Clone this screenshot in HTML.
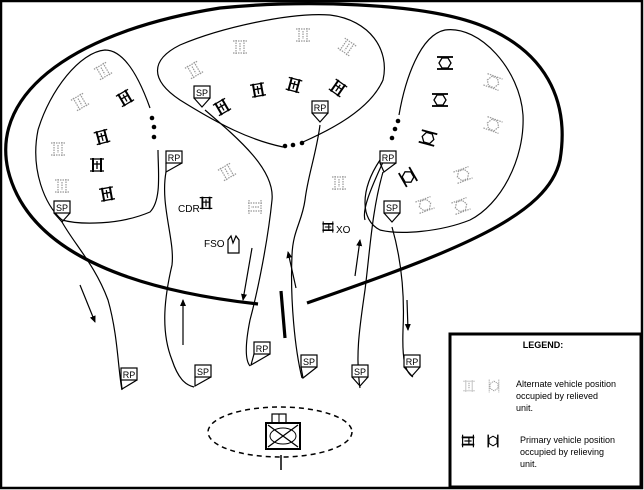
<!DOCTYPE html>
<html><head><meta charset="utf-8"><style>
html,body{margin:0;padding:0;background:#fff}
svg{display:block}
text{font-family:"Liberation Sans",sans-serif;fill:#000}
</style></head><body>
<svg width="644" height="490" viewBox="0 0 644 490" xmlns="http://www.w3.org/2000/svg">
<defs>
<g id="vb" stroke="#000" fill="none" stroke-width="1.3">
<line x1="-7" y1="-6" x2="7" y2="-6"/><line x1="-7" y1="6" x2="7" y2="6"/>
<line x1="-4" y1="-7" x2="-4" y2="7" stroke-width="2"/><line x1="4" y1="-7" x2="4" y2="7" stroke-width="2"/>
<line x1="0" y1="-4" x2="0" y2="4"/><line x1="-4" y1="-1" x2="4" y2="-1"/></g>
<g id="vg" stroke="#999" fill="none" stroke-width="1.2" stroke-dasharray="1.5 1">
<line x1="-7" y1="-6" x2="7" y2="-6"/><line x1="-7" y1="6" x2="7" y2="6"/>
<line x1="-4" y1="-7" x2="-4" y2="7"/><line x1="4" y1="-7" x2="4" y2="7"/>
<line x1="0" y1="-4" x2="0" y2="4"/></g>
<g id="cb" stroke="#000" fill="none" stroke-width="1.3">
<line x1="-8" y1="-6" x2="8" y2="-6" stroke-width="1.8"/><line x1="-8" y1="6" x2="8" y2="6" stroke-width="1.8"/>
<polygon points="-6,0 -3,-5 3,-5 6,0 3,5 -3,5"/></g>
<g id="cg" stroke="#999" fill="none" stroke-width="1.2" stroke-dasharray="1.5 1">
<line x1="-8" y1="-6" x2="8" y2="-6"/><line x1="-8" y1="6" x2="8" y2="6"/>
<polygon points="-6,0 -3,-5 3,-5 6,0 3,5 -3,5"/></g>
<marker id="ah" markerWidth="8" markerHeight="8" refX="6" refY="4" orient="auto" markerUnits="userSpaceOnUse">
<path d="M0,1 L7,4 L0,7 z" fill="#000"/></marker>
</defs>
<!-- frame -->
<rect x="1" y="1" width="641" height="487" fill="none" stroke="#000" stroke-width="2.5"/>
<!-- big outer curve -->
<path d="M258,304 C150,292 30,260 8,170 C-10,90 80,30 220,8 C300,0 420,2 480,25 C545,50 570,100 560,160 C548,215 460,250 307,303" fill="none" stroke="#000" stroke-width="3.2"/>
<line x1="281" y1="291" x2="285" y2="338" stroke="#000" stroke-width="3.2"/>
<!-- left cluster -->
<path d="M150,108 C140,80 125,50 105,50 C80,52 50,90 38,130 C30,170 45,205 62,220 C80,225 120,225 150,212 C162,200 158,170 158,150" fill="none" stroke="#000" stroke-width="1.2"/>
<circle cx="152" cy="118" r="2.3"/><circle cx="154" cy="127" r="2.3"/><circle cx="154" cy="137" r="2.3"/>
<!-- middle cluster -->
<path d="M303,142 C330,130 370,110 383,80 C390,50 370,20 330,15 C290,12 220,28 180,45 C150,60 150,80 180,100 C220,125 250,140 283,147" fill="none" stroke="#000" stroke-width="1.2"/>
<circle cx="285" cy="146" r="2.3"/><circle cx="293" cy="145" r="2.3"/><circle cx="302" cy="143" r="2.3"/>
<!-- right cluster -->
<path d="M399,115 C405,80 420,35 445,30 C480,25 520,70 523,115 C525,160 500,205 470,220 C440,232 400,235 380,230 C360,220 360,190 380,160" fill="none" stroke="#000" stroke-width="1.2"/>
<circle cx="398" cy="121" r="2.3"/><circle cx="395" cy="129" r="2.3"/><circle cx="392" cy="138" r="2.3"/>
<!-- routes -->
<g fill="none" stroke="#000" stroke-width="1.2">
<path d="M62,222 C75,245 95,265 108,300 C118,335 118,370 122,390"/>
<path d="M166,172 C160,205 175,240 172,265 C165,295 160,330 172,360 C178,378 185,385 194,387"/>
<path d="M205,110 C240,140 275,170 272,200 C268,240 258,290 250,320 C245,345 245,360 250,366"/>
<path d="M320,125 C316,155 308,175 305,200 C302,222 293,230 292,255 C290,300 295,350 302,378"/>
<path d="M383,172 C372,210 370,250 365,290 C360,325 355,355 360,388"/>
<path d="M384,160 C370,190 362,210 365,220"/>
<path d="M392,227 C400,255 405,290 403,330 C402,360 405,372 413,377"/>
<line x1="80" y1="285" x2="95" y2="322" marker-end="url(#ah)"/>
<line x1="183" y1="345" x2="183" y2="300" marker-end="url(#ah)"/>
<line x1="252" y1="248" x2="243" y2="300" marker-end="url(#ah)"/>
<line x1="296" y1="288" x2="288" y2="252" marker-end="url(#ah)"/>
<line x1="355" y1="276" x2="360" y2="240" marker-end="url(#ah)"/>
<line x1="407" y1="300" x2="408" y2="330" marker-end="url(#ah)"/>
</g>
<!-- SP/RP markers -->
<g font-size="9" stroke="#000" stroke-width="1.2">
<g transform="translate(62,208)"><rect x="-8" y="-7" width="16" height="12" fill="#fff"/><path d="M-8,5 L0,14 L8,5" fill="none"/><text x="0" y="3" text-anchor="middle" stroke="none">SP</text></g>
<g transform="translate(174,158)"><rect x="-8" y="-7" width="16" height="12" fill="#fff"/><path d="M-8,5 L-8,14 L8,5" fill="none"/><text x="0" y="3" text-anchor="middle" stroke="none">RP</text></g>
<g transform="translate(202,93)"><rect x="-8" y="-7" width="16" height="12" fill="#fff"/><path d="M-8,5 L0,14 L8,5" fill="none"/><text x="0" y="3" text-anchor="middle" stroke="none">SP</text></g>
<g transform="translate(320,108)"><rect x="-8" y="-7" width="16" height="12" fill="#fff"/><path d="M-8,5 L0,14 L8,5" fill="none"/><text x="0" y="3" text-anchor="middle" stroke="none">RP</text></g>
<g transform="translate(388,158)"><rect x="-8" y="-7" width="16" height="12" fill="#fff"/><path d="M-8,5 L-4,14 L8,5" fill="none"/><text x="0" y="3" text-anchor="middle" stroke="none">RP</text></g>
<g transform="translate(392,208)"><rect x="-8" y="-7" width="16" height="12" fill="#fff"/><path d="M-8,5 L0,14 L8,5" fill="none"/><text x="0" y="3" text-anchor="middle" stroke="none">SP</text></g>
<g transform="translate(129,375)"><rect x="-8" y="-7" width="16" height="12" fill="#fff"/><path d="M-8,5 L-7,14 L8,5" fill="none"/><text x="0" y="3" text-anchor="middle" stroke="none">RP</text></g>
<g transform="translate(203,372)"><rect x="-8" y="-7" width="16" height="12" fill="#fff"/><path d="M-8,5 L-8,14 L8,5" fill="none"/><text x="0" y="3" text-anchor="middle" stroke="none">SP</text></g>
<g transform="translate(262,349)"><rect x="-8" y="-7" width="16" height="12" fill="#fff"/><path d="M-8,5 L-11,16 L8,5" fill="none"/><text x="0" y="3" text-anchor="middle" stroke="none">RP</text></g>
<g transform="translate(309,362)"><rect x="-8" y="-7" width="16" height="12" fill="#fff"/><path d="M-8,5 L-6,16 L8,5" fill="none"/><text x="0" y="3" text-anchor="middle" stroke="none">SP</text></g>
<g transform="translate(360,372)"><rect x="-8" y="-7" width="16" height="12" fill="#fff"/><path d="M-8,5 L0,14 L8,5" fill="none"/><text x="0" y="3" text-anchor="middle" stroke="none">SP</text></g>
<g transform="translate(412,362)"><rect x="-8" y="-7" width="16" height="12" fill="#fff"/><path d="M-8,5 L0,14 L8,5" fill="none"/><text x="0" y="3" text-anchor="middle" stroke="none">RP</text></g>
</g>
<!-- vehicles left -->
<use href="#vg" transform="translate(103,71) rotate(-30)"/>
<use href="#vg" transform="translate(80,102) rotate(-30)"/>
<use href="#vg" transform="translate(58,149)"/>
<use href="#vg" transform="translate(62,186)"/>
<use href="#vb" transform="translate(125,98) rotate(-30)"/>
<use href="#vb" transform="translate(102,137) rotate(-15)"/>
<use href="#vb" transform="translate(97,165)"/>
<use href="#vb" transform="translate(107,194) rotate(-10)"/>
<!-- middle -->
<use href="#vg" transform="translate(194,70) rotate(-30)"/>
<use href="#vg" transform="translate(240,47)"/>
<use href="#vg" transform="translate(303,35)"/>
<use href="#vg" transform="translate(347,47) rotate(35)"/>
<use href="#vb" transform="translate(222,107) rotate(-30)"/>
<use href="#vb" transform="translate(258,90) rotate(-10)"/>
<use href="#vb" transform="translate(294,85) rotate(15)"/>
<use href="#vb" transform="translate(338,88) rotate(35)"/>
<!-- center -->
<use href="#vg" transform="translate(227,172) rotate(-30)"/>
<use href="#vg" transform="translate(255,207) rotate(90)"/>
<use href="#vg" transform="translate(339,183)"/>
<use href="#vb" transform="translate(206,203) scale(0.9)"/>
<text x="178" y="212" font-size="10">CDR</text>
<text x="204" y="247" font-size="10">FSO</text>
<path d="M228,253 L228,240 L231,236 L233,243 L236,236 L239,240 L239,253 Z" fill="none" stroke="#000" stroke-width="1.2"/>
<use href="#vb" transform="translate(328,227) rotate(90) scale(0.8)"/>
<text x="336" y="233" font-size="10">XO</text>
<!-- right -->
<use href="#cb" transform="translate(445,63)"/>
<use href="#cb" transform="translate(440,100)"/>
<use href="#cb" transform="translate(428,138) rotate(15)"/>
<use href="#cb" transform="translate(408,177) rotate(60)"/>
<use href="#cg" transform="translate(493,82) rotate(20)"/>
<use href="#cg" transform="translate(493,125) rotate(20)"/>
<use href="#cg" transform="translate(463,175) rotate(-20)"/>
<use href="#cg" transform="translate(425,205) rotate(-20)"/>
<use href="#cg" transform="translate(461,206) rotate(-20)"/>
<!-- bottom unit -->
<ellipse cx="280" cy="432" rx="72" ry="25" fill="none" stroke="#000" stroke-width="1.5" stroke-dasharray="5 4"/>
<rect x="266" y="423" width="34" height="26" fill="none" stroke="#000" stroke-width="2"/>
<rect x="272" y="414" width="14" height="9" fill="none" stroke="#000" stroke-width="1.2"/>
<line x1="279" y1="414" x2="279" y2="423" stroke="#000"/>
<path d="M268,425 L298,447 M298,425 L268,447" stroke="#000" stroke-width="1.3"/>
<ellipse cx="283" cy="436" rx="13" ry="8" fill="none" stroke="#000"/>
<line x1="281" y1="455" x2="281" y2="470" stroke="#000" stroke-width="1.5"/>
<!-- legend -->
<rect x="450" y="334" width="191" height="153" fill="#fff" stroke="#000" stroke-width="3"/>
<text x="543" y="348" font-size="9" font-weight="bold" text-anchor="middle">LEGEND:</text>
<use href="#vg" transform="translate(469,386) scale(0.8)"/>
<use href="#cg" transform="translate(494,386) rotate(90) scale(0.8)"/>
<text font-size="9"><tspan x="516" y="387">Alternate vehicle position</tspan><tspan x="516" y="399">occupied by relieved</tspan><tspan x="516" y="411">unit.</tspan></text>
<use href="#vb" transform="translate(468,441) rotate(90) scale(0.9)"/>
<use href="#cb" transform="translate(493,441) rotate(90) scale(0.8)"/>
<text font-size="9"><tspan x="520" y="443">Primary vehicle position</tspan><tspan x="520" y="455">occupied by relieving</tspan><tspan x="520" y="467">unit.</tspan></text>
</svg>
</body></html>
